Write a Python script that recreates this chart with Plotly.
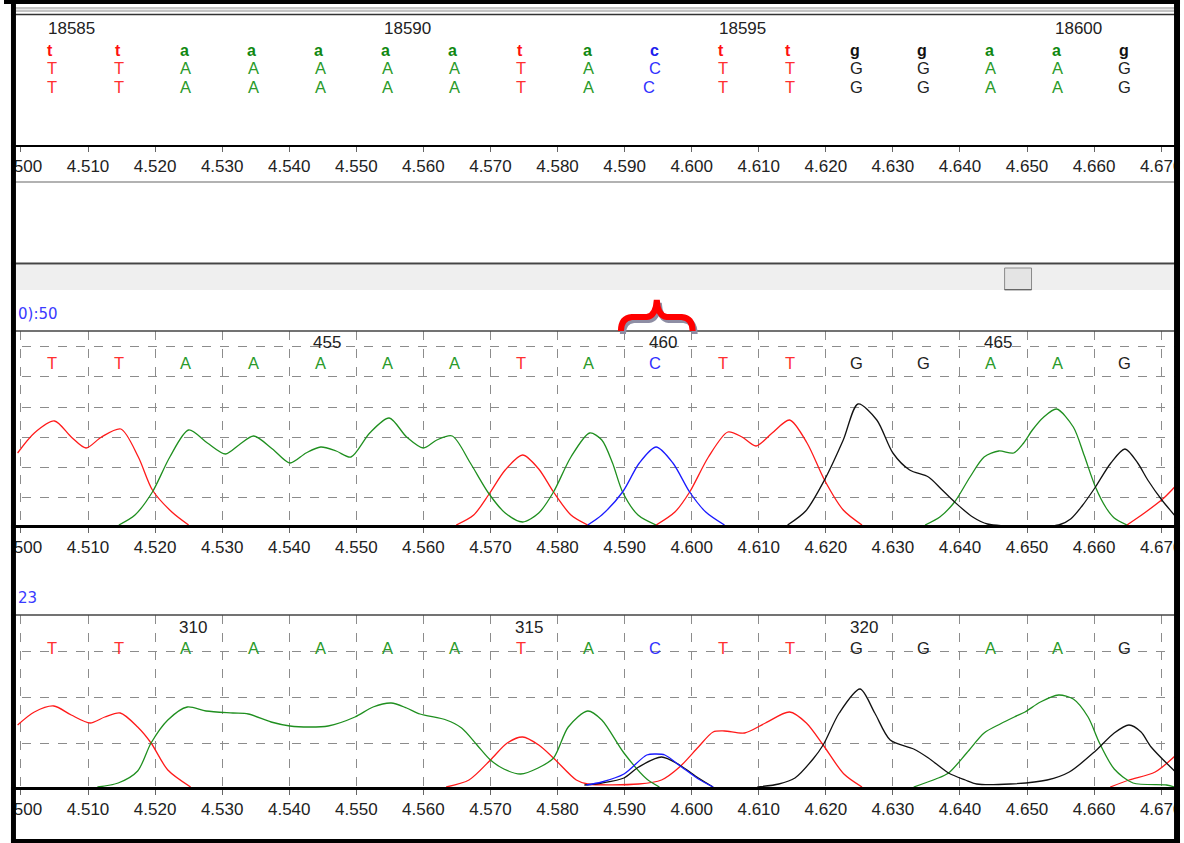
import plotly.graph_objects as go

W, H = 1184, 843

# ---------------- data ----------------
tick_values = [4.500, 4.510, 4.520, 4.530, 4.540, 4.550, 4.560, 4.570, 4.580,
               4.590, 4.600, 4.610, 4.620, 4.630, 4.640, 4.650, 4.660, 4.670]
tick_text = ["4.500", "4.510", "4.520", "4.530", "4.540", "4.550", "4.560", "4.570", "4.580",
             "4.590", "4.600", "4.610", "4.620", "4.630", "4.640", "4.650", "4.660", "4.670"]

base_x = [4.505, 4.515, 4.525, 4.535, 4.545, 4.555, 4.565, 4.575, 4.585,
          4.595, 4.605, 4.615, 4.625, 4.635, 4.645, 4.655, 4.665]
ref_calls = ["t", "t", "a", "a", "a", "a", "a", "t", "a", "c", "t", "t", "g", "g", "a", "a", "g"]
cons_calls = ["T", "T", "A", "A", "A", "A", "A", "T", "A", "C", "T", "T", "G", "G", "A", "A", "G"]
read1_calls = ["T", "T", "A", "A", "A", "A", "A", "T", "A", "C", "T", "T", "G", "G", "A", "A", "G"]
read2_calls = ["T", "T", "A", "A", "A", "A", "A", "T", "A", "C", "T", "T", "G", "G", "A", "A", "G"]

ref_pos_labels = ["18585", "18590", "18595", "18600"]
ref_pos_index = [0, 5, 10, 15]
read1_pos_labels = ["455", "460", "465"]
read1_pos_index = [4, 9, 14]
read2_pos_labels = ["310", "315", "320"]
read2_pos_index = [2, 7, 12]

# ---- trace 1 (upper chromatogram) ----
r1_T_x = [4.4995, 4.5020, 4.5050, 4.5075, 4.5097, 4.5120, 4.5149, 4.5175, 4.5196, 4.5225, 4.5250, None,
          4.5649, 4.5675, 4.5697, 4.5722, 4.5748, 4.5772, 4.5794, 4.5820, 4.5845, None,
          4.5947, 4.5975, 4.5997, 4.6025, 4.6054, 4.6075, 4.6096, 4.6120, 4.6146, 4.6172, 4.6198, 4.6226, 4.6254, None,
          4.6649, 4.6675, 4.6704, 4.6727]
r1_T_y = [72, 92, 104, 88, 77, 88, 96, 68, 35, 13, 0, None,
          0, 10, 30, 55, 70, 56, 33, 10, 0, None,
          0, 13, 33, 68, 93, 88, 79, 92, 105, 82, 45, 15, 0, None,
          0, 12, 27, 43]
r1_A_x = [4.5146, 4.5170, 4.5196, 4.5222, 4.5250, 4.5278, 4.5305, 4.5325, 4.5347, 4.5375, 4.5401, 4.5425,
          4.5447, 4.5470, 4.5492, 4.5520, 4.5549, 4.5575, 4.5600, 4.5620, 4.5643, 4.5670, 4.5697, 4.5722,
          4.5748, 4.5772, 4.5794, 4.5820, 4.5848, 4.5866, 4.5882, 4.5897, 4.5920, 4.5947, None,
          4.6348, 4.6370, 4.6392, 4.6415, 4.6436, 4.6458, 4.6480, 4.6495, 4.6508, 4.6525, 4.6544,
          4.6569, 4.6585, 4.6602, 4.6618, 4.6630, 4.6649]
r1_A_y = [0, 10, 33, 68, 95, 82, 71, 80, 89, 76, 62, 72,
          78, 74, 68, 92, 107, 88, 77, 85, 89, 62, 32, 12,
          3, 12, 33, 68, 92, 85, 62, 33, 10, 0, None,
          0, 8, 23, 48, 68, 74, 72, 82, 95, 108, 116,
          98, 70, 38, 17, 7, 0]
r1_C_x = [4.5845, 4.5866, 4.5897, 4.5922, 4.5947, 4.5972, 4.5997, 4.6021, 4.6049]
r1_C_y = [0, 10, 33, 62, 78, 62, 33, 13, 0]
r1_G_x = [4.6143, 4.6170, 4.6198, 4.6226, 4.6248, 4.6276, 4.6300, 4.6325, 4.6353, 4.6372, 4.6392,
          4.6419, 4.6441, 4.6547, 4.6565, 4.6582, 4.6602, 4.6625, 4.6646, 4.6665, 4.6680, 4.6701, 4.6726]
r1_G_y = [0, 14, 45, 85, 121, 105, 72, 55, 48, 36, 23,
          8, 1, 0, 6, 19, 38, 62, 76, 62, 45, 25, 5]

# ---- trace 2 (lower chromatogram) ----
r2_T_x = [4.4995, 4.5020, 4.5049, 4.5075, 4.5103, 4.5125, 4.5148, 4.5174, 4.5194, 4.5219, 4.5253, None,
          4.5634, 4.5668, 4.5700, 4.5725, 4.5748, 4.5772, 4.5794, 4.5828, 4.5845, 4.5921, 4.5955, 4.5982,
          4.6010, 4.6032, 4.6049, 4.6079, 4.6110, 4.6146, 4.6171, 4.6196, 4.6227, 4.6254, None,
          4.6624, 4.6652, 4.6691, 4.6727]
r2_T_y = [62, 75, 81, 72, 64, 70, 74, 60, 44, 17, 0, None,
          0, 7, 27, 44, 50, 42, 29, 7, 3, 3, 7, 20,
          40, 55, 56, 54, 64, 75, 64, 42, 13, 0, None,
          0, 7, 15, 35]
r2_A_x = [4.5114, 4.5145, 4.5174, 4.5194, 4.5219, 4.5248, 4.5276, 4.5316, 4.5339, 4.5373, 4.5401, 4.5430,
          4.5458, 4.5498, 4.5525, 4.5552, 4.5575, 4.5595, 4.5634, 4.5657, 4.5680, 4.5700, 4.5720, 4.5745,
          4.5771, 4.5794, 4.5816, 4.5845, 4.5866, 4.5899, 4.5933, 4.5952, None,
          4.6331, 4.6364, 4.6383, 4.6410, 4.6436, 4.6460, 4.6481, 4.6497, 4.6520, 4.6547, 4.6569,
          4.6591, 4.6608, 4.6630, 4.6658, 4.6708, 4.6720]
r2_A_y = [0, 4, 16, 44, 67, 80, 76, 74, 73, 65, 61, 60,
          61, 70, 80, 84, 79, 73, 67, 59, 42, 27, 18, 13,
          19, 29, 60, 76, 67, 34, 8, 0, None,
          0, 8, 14, 34, 54, 63, 70, 75, 85, 92, 88,
          70, 44, 18, 4, 2, 0]
r2_C_x = [4.5843, 4.5866, 4.5899, 4.5933, 4.5947, 4.5960, 4.5985, 4.6010, 4.6032]
r2_C_y = [2, 5, 13, 32, 33, 32, 20, 8, 0]
r2_G_x = [4.5840, 4.5866, 4.5899, 4.5921, 4.5955, 4.5982, 4.6010, 4.6032, None,
          4.6098, 4.6130, 4.6154, 4.6181, 4.6196, 4.6220, 4.6251, 4.6273, 4.6296, 4.6331, 4.6353,
          4.6383, 4.6408, 4.6425, 4.6475, 4.6530, 4.6563, 4.6602, 4.6630, 4.6652, 4.6670, 4.6685, 4.6723]
r2_G_y = [2, 4, 9, 20, 30, 22, 9, 0, None,
          0, 3, 9, 28, 42, 74, 98, 74, 47, 38, 29,
          14, 7, 3, 3, 7, 15, 36, 54, 62, 55, 40, 14]

r1_grid = [28, 58, 88, 118, 149, 179]
r2_grid = [44, 90, 136]

# ---------------- styling helpers ----------------
PX_PER_UNIT = 6730.0
X0 = 4.5 - 17 / PX_PER_UNIT
X1 = X0 + W / PX_PER_UNIT
LETTER_DX = -0.0004


def fx(px):
    return px / W


def fy(py):
    return 1 - py / H


CH_COL = {"A": "#1f8f1f", "C": "#1a1aff", "G": "#111111", "T": "#ff1a1a"}
TXT_COL = {"A": "#2a9a2a", "C": "#3030ff", "G": "#222222", "T": "#ff3030",
           "a": "#118811", "c": "#2020ee", "g": "#111111", "t": "#ff1010"}
FONT = "Liberation Sans, Arial, sans-serif"

# the first tick label is partly hidden behind the window frame in the screenshot
tick_text_shown = list(tick_text)
tick_text_shown[0] = "<span style='color:rgba(0,0,0,0)'>%s</span>%s" % (tick_text[0][:2], tick_text[0][2:])

fig = go.Figure()


def add_channel(xs, ys, base, xa, ya):
    fig.add_trace(go.Scatter(x=xs, y=ys, mode="lines", xaxis=xa, yaxis=ya,
                             line=dict(color=CH_COL[base], width=1.3, shape="spline", smoothing=0.8),
                             connectgaps=False, hoverinfo="skip", showlegend=False))


add_channel(r1_T_x, r1_T_y, "T", "x2", "y2")
add_channel(r1_A_x, r1_A_y, "A", "x2", "y2")
add_channel(r1_C_x, r1_C_y, "C", "x2", "y2")
add_channel(r1_G_x, r1_G_y, "G", "x2", "y2")
add_channel(r2_T_x, r2_T_y, "T", "x3", "y3")
add_channel(r2_A_x, r2_A_y, "A", "x3", "y3")
add_channel(r2_G_x, r2_G_y, "G", "x3", "y3")
add_channel(r2_C_x, r2_C_y, "C", "x3", "y3")

annotations = []


def letter(x, py, txt, size=16.5, bold=False, color=None):
    annotations.append(dict(x=x + LETTER_DX, xref="x", y=fy(py), yref="paper",
                            text=("<b>%s</b>" % txt) if bold else txt,
                            showarrow=False, xanchor="center", yanchor="middle",
                            font=dict(family=FONT, size=size, color=color or TXT_COL[txt])))


# top (reference) panel
for i, bx in enumerate(base_x):
    letter(bx - 0.0002, 50, ref_calls[i], size=16, bold=True)
    letter(bx, 68, cons_calls[i])
    dx = -0.0009 if cons_calls[i] == "C" else 0.0
    letter(bx + dx, 87, cons_calls[i])
for lab, idx in zip(ref_pos_labels, ref_pos_index):
    annotations.append(dict(x=base_x[idx] - 0.0012, xref="x", y=fy(28), yref="paper", text=lab,
                            showarrow=False, xanchor="left", yanchor="middle",
                            font=dict(family=FONT, size=17, color="#222222")))

# read 1
for i, bx in enumerate(base_x):
    letter(bx, 363, read1_calls[i])
for lab, idx in zip(read1_pos_labels, read1_pos_index):
    annotations.append(dict(x=base_x[idx] + 0.0007, xref="x", y=fy(342), yref="paper", text=lab,
                            showarrow=False, xanchor="center", yanchor="middle",
                            font=dict(family=FONT, size=17, color="#222222")))
# read 2
for i, bx in enumerate(base_x):
    letter(bx, 648, read2_calls[i])
for lab, idx in zip(read2_pos_labels, read2_pos_index):
    annotations.append(dict(x=base_x[idx] + 0.0007, xref="x", y=fy(627), yref="paper", text=lab,
                            showarrow=False, xanchor="center", yanchor="middle",
                            font=dict(family=FONT, size=17, color="#222222")))

annotations.append(dict(x=fx(12), xref="paper", y=fy(314), yref="paper", text="0):50", showarrow=False,
                        xanchor="left", yanchor="middle", font=dict(family="DejaVu Sans", size=15, color="#3a3aff")))
annotations.append(dict(x=fx(12), xref="paper", y=fy(598), yref="paper", text="23", showarrow=False,
                        xanchor="left", yanchor="middle", font=dict(family="DejaVu Sans", size=15, color="#3a3aff")))

shapes = []


def rect(x0, y0, x1, y1, fill, line=None, layer="above"):
    shapes.append(dict(type="rect", xref="paper", yref="paper", x0=fx(x0), x1=fx(x1), y0=fy(y0), y1=fy(y1),
                       fillcolor=fill, line=dict(width=line[1] if line else 0, color=line[0] if line else fill),
                       layer=layer))


def hline(py, color, width, x0=0, x1=W, layer="above"):
    shapes.append(dict(type="line", xref="paper", yref="paper", x0=fx(x0), x1=fx(x1), y0=fy(py), y1=fy(py),
                       line=dict(color=color, width=width), layer=layer))


# decorative frame
rect(0, 7, W, 12, "#c4c4c4")
hline(9.5, "#e6e6e6", 1)
hline(14.5, "#333333", 1.5)
hline(182, "#666666", 1.2)
hline(263.5, "#444444", 2)
rect(0, 265, W, 290, "#efefef")
rect(1004, 268, 1031, 290, "#e4e4e4", line=("#8a8a8a", 1))
hline(289.5, "#666666", 1, 1004, 1031)
hline(331, "#444444", 1.5)
hline(615, "#444444", 1.5)


def path_px(cmds, ox=0, oy=0):
    out = []
    for c, pts in cmds:
        out.append(c + " " + " ".join("%.5f,%.5f" % (fx(x + ox), fy(y + oy)) for x, y in pts))
    return " ".join(out)


# red brace marking the C position
brace = [("M", [(619, 331)]), ("Q", [(619, 318), (630, 317)]), ("L", [(645, 317)]),
         ("Q", [(654, 316), (655, 300)]), ("Q", [(656, 316), (665, 317)]), ("L", [(680, 317)]),
         ("Q", [(691, 318), (691, 331)])]
shapes.append(dict(type="path", xref="paper", yref="paper", path=path_px(brace, 2, 3),
                   line=dict(color="#8e8ea4", width=6), layer="above"))
shapes.append(dict(type="path", xref="paper", yref="paper", path=path_px(brace),
                   line=dict(color="#ff0000", width=6), layer="above"))

# outer borders
rect(0, 0, 7, H, "#ffffff")
rect(7, 0, 12, H, "#000000")
rect(1174, 0, 1180, H, "#000000")
rect(1180, 0, W, H, "#ffffff")
rect(0, 0, 1180, 4, "#000000")
rect(7, 839, 1180, H, "#000000")

xcommon = dict(range=[X0, X1], domain=[0, 1], tickvals=tick_values, ticktext=tick_text_shown,
               ticks="outside", ticklen=5, tickcolor="#666666", tickwidth=1,
               tickfont=dict(family=FONT, size=17, color="#222222"), ticklabeloverflow="allow",
               showline=True, linecolor="#000000", zeroline=False, fixedrange=True)

fig.update_layout(
    width=W, height=H, autosize=False,
    margin=dict(l=0, r=0, t=0, b=0, pad=0),
    paper_bgcolor="#ffffff", plot_bgcolor="#ffffff",
    showlegend=False,
    xaxis=dict(anchor="y", showgrid=False, linewidth=2, **xcommon),
    yaxis=dict(domain=[fy(145), fy(15)], range=[0, 1], visible=False, fixedrange=True),
    xaxis2=dict(anchor="y2", showgrid=True, gridcolor="#8c8c8c", griddash="dash", gridwidth=1,
                linewidth=2.5, **xcommon),
    yaxis2=dict(domain=[fy(525), fy(331)], range=[0, 194], tickvals=r1_grid, showticklabels=False,
                ticks="", showgrid=True, gridcolor="#8c8c8c", griddash="dash", gridwidth=1,
                zeroline=False, showline=False, fixedrange=True),
    xaxis3=dict(anchor="y3", showgrid=True, gridcolor="#8c8c8c", griddash="dash", gridwidth=1,
                linewidth=2.5, **xcommon),
    yaxis3=dict(domain=[fy(787), fy(615)], range=[0, 172], tickvals=r2_grid, showticklabels=False,
                ticks="", showgrid=True, gridcolor="#8c8c8c", griddash="dash", gridwidth=1,
                zeroline=False, showline=False, fixedrange=True),
    annotations=annotations,
    shapes=shapes,
)

fig.write_html("out.html", config={"displayModeBar": False},
               post_script="document.body.style.margin='0px';document.body.style.overflow='hidden';")
